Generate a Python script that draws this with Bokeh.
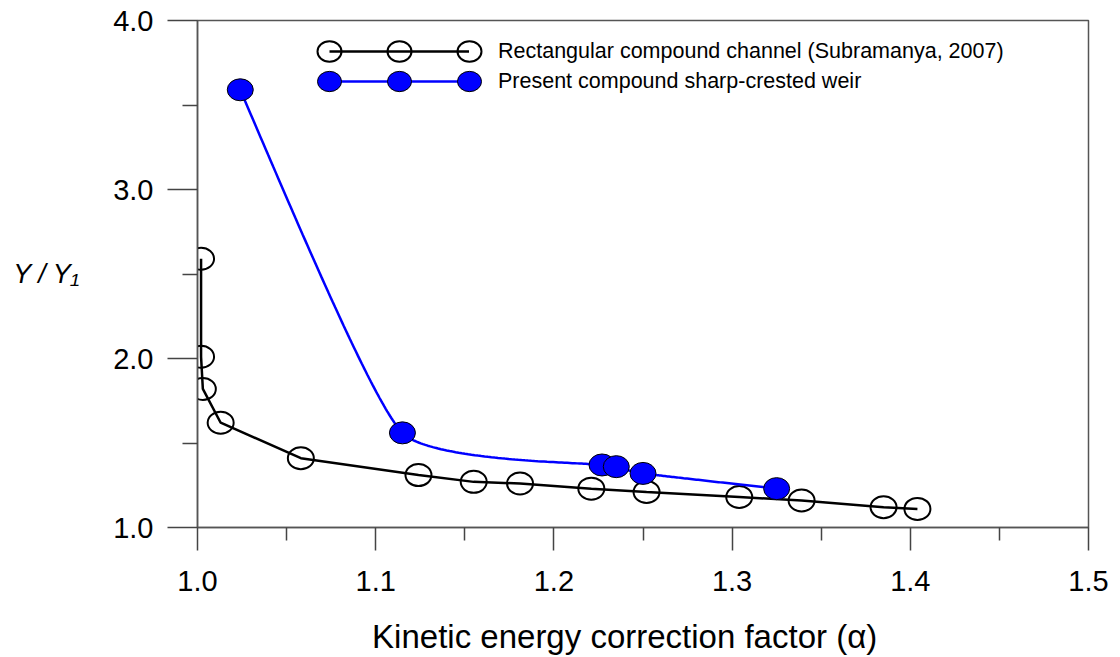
import numpy as np
from bokeh.plotting import figure
from bokeh.models import Range1d, FixedTicker, PrintfTickFormatter, Legend, LegendItem
from bokeh.embed import file_html
from bokeh.resources import INLINE

# ---- data ----
alpha_rect = [1.002, 1.002, 1.003, 1.013, 1.058, 1.124, 1.155, 1.181, 1.221, 1.252, 1.304, 1.339, 1.385, 1.404]
ratio_rect = [2.59, 2.01, 1.82, 1.62, 1.41, 1.31, 1.27, 1.26, 1.23, 1.21, 1.18, 1.16, 1.12, 1.11]

alpha_weir = [1.024, 1.115, 1.227, 1.235, 1.250, 1.325]
ratio_weir = [3.59, 1.56, 1.37, 1.36, 1.32, 1.23]

x_ticks = [1.0, 1.1, 1.2, 1.3, 1.4, 1.5]
x_minor = [1.05, 1.15, 1.25, 1.35, 1.45]
y_ticks = [1.0, 2.0, 3.0, 4.0]
y_minor = [1.5, 2.5, 3.5]

label_rect = "Rectangular compound channel (Subramanya, 2007)"
label_weir = "Present compound sharp-crested weir"
x_title = "Kinetic energy correction factor (\u03b1)"
y_title = "Y / Y\u2081"

FONT = "Liberation Sans"
X0, X1, Y0, Y1 = 1.0, 1.5, 1.0, 4.0
FW, FH = 891, 507
TENSION = 0.54


def cardinal_curve(xs, ys, tension, n=80):
    """Smooth (cardinal Hermite) curve through the given points, in screen-proportional space."""
    P = np.column_stack([np.array(xs) * FW / (X1 - X0), np.array(ys) * FH / (Y1 - Y0)])
    k = (1 - tension) / 2
    m = np.zeros_like(P)
    for i in range(1, len(P) - 1):
        m[i] = k * (P[i + 1] - P[i - 1])
    m[0] = (3 * (P[1] - P[0]) - m[1]) / 2
    m[-1] = (3 * (P[-1] - P[-2]) - m[-2]) / 2
    out = []
    t = np.linspace(0, 1, n)[:, None]
    h00 = 2 * t**3 - 3 * t**2 + 1
    h10 = t**3 - 2 * t**2 + t
    h01 = -2 * t**3 + 3 * t**2
    h11 = t**3 - t**2
    for i in range(len(P) - 1):
        out.append(h00 * P[i] + h10 * m[i] + h01 * P[i + 1] + h11 * m[i + 1])
    out = np.vstack(out)
    return out[:, 0] * (X1 - X0) / FW, out[:, 1] * (Y1 - Y0) / FH


p = figure(width=1112, height=657, x_range=Range1d(X0, X1), y_range=Range1d(Y0, Y1),
           output_backend="svg", toolbar_location=None,
           min_border_left=197, min_border_right=24, min_border_top=20, min_border_bottom=130)
p.grid.visible = False
p.outline_line_color = "#555555"
p.outline_line_width = 1.5

for ax in (p.xaxis[0], p.yaxis[0]):
    ax.axis_line_color = "#555555"
    ax.axis_line_width = 1.5
    ax.major_tick_line_color = "#444444"
    ax.major_tick_line_width = 1.5
    ax.minor_tick_line_color = "#444444"
    ax.minor_tick_line_width = 1.5
    ax.major_tick_in = 0
    ax.minor_tick_in = 0
    ax.formatter = PrintfTickFormatter(format="%.1f")
    ax.major_label_text_font = FONT
    ax.major_label_text_font_size = "29px"
    ax.major_label_text_color = "black"
    ax.axis_label_text_font = FONT
    ax.axis_label_text_color = "black"

xa = p.xaxis[0]
xa.ticker = FixedTicker(ticks=x_ticks, minor_ticks=x_minor)
xa.major_tick_out = 23
xa.minor_tick_out = 13
xa.major_label_standoff = 20
# trailing no-break spaces shift the centred title slightly left, as in the reference
xa.axis_label = x_title + "\u00a0" * 4
xa.axis_label_text_font_size = "33px"
xa.axis_label_text_font_style = "normal"
xa.axis_label_standoff = 24

ya = p.yaxis[0]
ya.ticker = FixedTicker(ticks=y_ticks, minor_ticks=y_minor)
ya.major_tick_out = 30
ya.minor_tick_out = 15
ya.major_label_standoff = 14
ya.axis_label = y_title
ya.axis_label_orientation = "horizontal"
ya.axis_label_text_font_size = "27px"
ya.axis_label_text_font_style = "italic"
ya.axis_label_standoff = 30

r_line = p.line(alpha_rect, ratio_rect, line_color="black", line_width=2.5)
r_pts = p.ellipse(x=alpha_rect, y=ratio_rect, width=26, height=22, width_units="screen",
                  height_units="screen", fill_color=None, line_color="black", line_width=2)

cx, cy = cardinal_curve(alpha_weir, ratio_weir, TENSION)
w_line = p.line(cx, cy, line_color="#0000FF", line_width=2.5)
w_pts = p.ellipse(x=alpha_weir, y=ratio_weir, width=26, height=22, width_units="screen",
                  height_units="screen", fill_color="#0000FF", line_color="black", line_width=1)


def make_legend(items, gw, loc, standoff=29):
    return Legend(items=items, location=loc, glyph_width=gw, glyph_height=30, spacing=0,
                  padding=0, margin=0, label_standoff=standoff, border_line_color=None,
                  background_fill_alpha=0, label_text_font=FONT, label_text_font_size="21.5px",
                  label_text_color="black")


legA = make_legend([LegendItem(label=label_rect, renderers=[r_line, r_pts]),
                    LegendItem(label=label_weir, renderers=[w_line, w_pts])], 140, (132, 431))
legB = make_legend([LegendItem(label=" ", renderers=[r_pts]),
                    LegendItem(label=" ", renderers=[w_pts])], 30, (117, 431), 0)
legC = make_legend([LegendItem(label=" ", renderers=[r_pts]),
                    LegendItem(label=" ", renderers=[w_pts])], 30, (257, 431), 0)
p.add_layout(legA)
p.add_layout(legB)
p.add_layout(legC)

open("out.html", "w").write(file_html(p, INLINE))
